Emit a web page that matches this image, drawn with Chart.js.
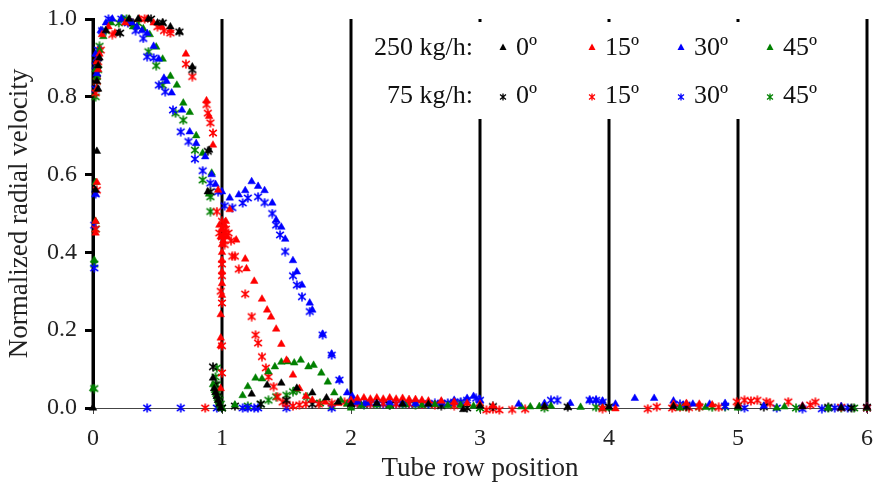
<!DOCTYPE html>
<html>
<head>
<meta charset="utf-8">
<script src="https://cdn.jsdelivr.net/npm/chart.js@4.4.0/dist/chart.umd.min.js"></script>
<style>
  html, body { margin: 0; padding: 0; background: #fff; }
</style>
</head>
<body>
<canvas id="radialChart" width="874" height="485"></canvas>
<script>
// tube row positions (vertical black lines)
const tubeRows = [0, 1, 2, 3, 4, 5, 6];
const xTicks = [0, 1, 2, 3, 4, 5, 6];
const yTicks = [0, 0.2, 0.4, 0.6, 0.8, 1.0];

// 250 kg/h, triangles
const tri0 = [
  [0.0, 0.0], [0.02, 0.56], [0.03, 0.66], [0.03, 0.84], [0.04, 0.88], [0.05, 0.9], [0.04, 0.82],
  [0.1, 0.97], [0.2, 0.964], [0.28, 1.0], [0.35, 1.0], [0.43, 1.0], [0.5, 0.99], [0.54, 0.99],
  [0.6, 0.98], [0.67, 0.967], [0.77, 0.877], [0.9, 0.663], [0.89, 0.556],
  [0.93, 0.077], [0.94, 0.05], [0.95, 0.04], [0.96, 0.03], [0.97, 0.02], [0.98, 0.01], [0.99, 0.0],
  [1.23, 0.036], [1.35, 0.059], [1.46, 0.064], [1.58, 0.051], [1.7, 0.039], [1.81, 0.026], [1.9, 0.015], [2.0, 0.01],
  [2.2, 0.012], [2.4, 0.01], [2.6, 0.01], [2.87, -0.004], [3.0, 0.005], [3.5, 0.004], [3.68, 0.002],
  [4.0, 0.003], [4.5, 0.004], [5.0, 0.004], [5.5, 0.003], [5.8, 0.0], [6.0, 0.002]
];
const tri15 = [
  [0.02, 0.45], [0.02, 0.48], [0.03, 0.58], [0.03, 0.82], [0.04, 0.87], [0.05, 0.91], [0.03, 0.89],
  [0.07, 0.96], [0.12, 0.98], [0.17, 0.964], [0.25, 0.99], [0.36, 1.0], [0.42, 1.0], [0.47, 0.99],
  [0.53, 0.98], [0.6, 0.97], [0.72, 0.91], [0.88, 0.79], [0.9, 0.75], [0.93, 0.676], [0.97, 0.56],
  [0.99, 0.05], [0.99, 0.16], [0.99, 0.18], [0.99, 0.24], [1.0, 0.29], [1.0, 0.32], [1.0, 0.35],
  [1.0, 0.38], [1.0, 0.4], [1.0, 0.42], [1.01, 0.43], [1.01, 0.44], [1.02, 0.45], [1.0, 0.46],
  [1.02, 0.47], [1.03, 0.48], [0.98, 0.47], [0.99, 0.44], [1.04, 0.44], [1.06, 0.51],
  [1.11, 0.432], [1.18, 0.383], [1.19, 0.358], [1.25, 0.326], [1.31, 0.28], [1.35, 0.252], [1.38, 0.234],
  [1.42, 0.203], [1.46, 0.164], [1.5, 0.123], [1.55, 0.085], [1.6, 0.05], [1.65, 0.03], [1.7, 0.02],
  [1.8, 0.015], [1.9, 0.012], [2.0, 0.02], [2.05, 0.024], [2.1, 0.026], [2.15, 0.023], [2.2, 0.026],
  [2.25, 0.023], [2.3, 0.026], [2.35, 0.023], [2.4, 0.025], [2.45, 0.022], [2.5, 0.022], [2.55, 0.02],
  [2.6, 0.018], [2.7, 0.018], [2.8, 0.015], [2.9, 0.012], [3.0, 0.01], [3.1, 0.005], [3.5, 0.003],
  [3.95, 0.0], [4.05, -0.002], [4.5, 0.01], [4.6, 0.012], [4.7, 0.01], [4.8, 0.008], [5.0, 0.01],
  [5.5, 0.005], [6.0, 0.003]
];
const tri30 = [
  [0.02, 0.55], [0.03, 0.86], [0.04, 0.9], [0.02, 0.91], [0.06, 0.97], [0.1, 0.99], [0.15, 1.0], [0.22, 1.0],
  [0.3, 0.99], [0.34, 0.98], [0.38, 0.97], [0.42, 0.963], [0.47, 0.93], [0.51, 0.897], [0.55, 0.848],
  [0.57, 0.84], [0.61, 0.81], [0.69, 0.766], [0.75, 0.71], [0.8, 0.68], [0.87, 0.646], [0.92, 0.6],
  [0.95, 0.575], [1.0, 0.556], [1.06, 0.54], [1.13, 0.548], [1.18, 0.559], [1.23, 0.582], [1.28, 0.57],
  [1.33, 0.559], [1.39, 0.527], [1.42, 0.483], [1.46, 0.465], [1.49, 0.434], [1.55, 0.379], [1.58, 0.35],
  [1.62, 0.316], [1.68, 0.27], [1.7, 0.252], [1.78, 0.19], [1.85, 0.139], [1.91, 0.072], [1.97, 0.039],
  [2.0, 0.02], [2.01, 0.03], [2.02, 0.015], [2.05, 0.015], [2.12, 0.013], [2.2, 0.012], [2.3, 0.014],
  [2.4, 0.013], [2.5, 0.012], [2.6, 0.014], [2.7, 0.015], [2.8, 0.02], [2.9, 0.025], [2.95, 0.03],
  [3.0, 0.02], [3.3, 0.01], [3.5, 0.012], [3.7, 0.012], [3.85, 0.02], [3.9, 0.02], [3.95, 0.018],
  [4.05, 0.01], [4.2, 0.025], [4.35, 0.025], [4.5, 0.018], [4.65, 0.01], [4.78, 0.01], [4.9, 0.012],
  [5.2, 0.005], [5.5, 0.005], [5.8, 0.004], [6.0, 0.003]
];
const tri45 = [
  [0.0, 0.05], [0.01, 0.38], [0.02, 0.48], [0.02, 0.58], [0.03, 0.82], [0.03, 0.85], [0.04, 0.88],
  [0.05, 0.92], [0.02, 0.87], [0.08, 0.955], [0.14, 0.99], [0.23, 1.0], [0.31, 0.98], [0.39, 0.975], [0.44, 0.96],
  [0.49, 0.928], [0.54, 0.897], [0.6, 0.853], [0.65, 0.83], [0.7, 0.784], [0.75, 0.76], [0.8, 0.7],
  [0.85, 0.655], [0.92, 0.604], [0.9, 0.55],
  [0.93, 0.06], [0.94, 0.05], [0.945, 0.045], [0.95, 0.04], [0.955, 0.035], [0.96, 0.03], [0.965, 0.025],
  [0.97, 0.02], [0.975, 0.015], [0.98, 0.01], [0.985, 0.005], [0.99, 0.0], [1.0, 0.0],
  [1.1, 0.008], [1.16, 0.032], [1.2, 0.055], [1.26, 0.077], [1.31, 0.075], [1.36, 0.093], [1.41, 0.106],
  [1.46, 0.118], [1.51, 0.119], [1.56, 0.116], [1.61, 0.123], [1.67, 0.106], [1.71, 0.11], [1.77, 0.09],
  [1.82, 0.067], [1.87, 0.039], [1.92, 0.02], [1.97, 0.01], [2.0, 0.0],
  [2.08, 0.006], [2.2, 0.008], [2.3, 0.005], [2.42, 0.008], [2.55, 0.007], [2.65, 0.009], [2.75, 0.006],
  [2.85, 0.007], [2.95, 0.005], [3.0, 0.005], [3.32, 0.003], [3.39, 0.003], [3.46, 0.004], [3.55, 0.005],
  [3.78, 0.002], [3.95, 0.0], [4.0, 0.0], [4.55, 0.0], [4.75, 0.002], [5.0, 0.0], [5.3, 0.0],
  [5.36, 0.003], [5.7, 0.0], [6.0, 0.0]
];

// 75 kg/h, asterisks
const star0 = [
  [0.03, 0.86], [0.04, 0.9], [0.03, 0.88], [0.21, 0.964], [0.31, 0.99], [0.45, 1.0], [0.54, 0.99],
  [0.67, 0.967], [0.77, 0.87], [0.89, 0.66], [0.91, 0.556], [0.93, 0.106], [0.95, 0.06], [0.97, 0.03],
  [1.0, 0.0], [1.1, 0.005], [1.3, 0.01], [1.5, 0.02], [1.7, 0.01], [2.0, 0.01], [2.3, 0.008],
  [2.7, 0.006], [2.9, 0.0], [3.1, 0.004], [3.68, 0.003], [4.0, 0.003], [4.6, 0.004], [5.2, 0.003],
  [5.7, 0.002], [5.88, 0.0], [6.0, 0.002]
];
const star15 = [
  [0.02, 0.46], [0.03, 0.56], [0.03, 0.84], [0.04, 0.89], [0.06, 0.92], [0.02, 0.81], [0.15, 0.96], [0.3, 0.99],
  [0.4, 1.0], [0.5, 0.98], [0.55, 0.97], [0.6, 0.964], [0.72, 0.884], [0.77, 0.852], [0.88, 0.78],
  [0.89, 0.758], [0.91, 0.733], [0.93, 0.707], [0.87, 0.0], [0.96, 0.505],
  [1.0, 0.09], [1.0, 0.16], [1.0, 0.27], [0.99, 0.3], [1.0, 0.34], [1.0, 0.37], [1.02, 0.42],
  [1.0, 0.44], [1.03, 0.46], [1.0, 0.48], [1.05, 0.45], [1.07, 0.43], [1.08, 0.39], [0.98, 0.45],
  [1.1, 0.39], [1.13, 0.357], [1.18, 0.293], [1.23, 0.235], [1.26, 0.188], [1.28, 0.167], [1.31, 0.132],
  [1.34, 0.103], [1.36, 0.08], [1.4, 0.055], [1.43, 0.029], [1.47, 0.015], [1.5, 0.01], [1.55, 0.005],
  [1.6, 0.008], [1.65, 0.01], [1.75, 0.01], [1.85, 0.012], [1.95, 0.015], [2.05, 0.012], [2.15, 0.01],
  [2.25, 0.012], [2.35, 0.01], [2.45, 0.011], [2.55, 0.009], [2.65, 0.008], [2.8, 0.006],
  [3.05, -0.005], [3.1, -0.003], [3.15, -0.005], [3.25, -0.004], [3.35, -0.003], [3.95, -0.002],
  [4.3, -0.002], [4.37, 0.003], [4.49, 0.0], [4.55, 0.002], [4.62, 0.001], [4.7, 0.003], [4.85, 0.002],
  [4.99, 0.016], [5.05, 0.02], [5.1, 0.018], [5.15, 0.02], [5.22, 0.016], [5.25, 0.012], [5.39, 0.016],
  [5.56, 0.008], [5.6, 0.015], [5.8, 0.002], [6.0, 0.0]
];
const star30 = [
  [0.01, 0.36], [0.01, 0.47], [0.02, 0.55], [0.02, 0.82], [0.03, 0.86], [0.03, 0.9], [0.04, 0.92],
  [0.02, 0.88], [0.07, 0.97], [0.12, 1.0], [0.22, 1.0], [0.27, 0.99], [0.33, 0.97], [0.39, 0.95], [0.42, 0.903],
  [0.47, 0.9], [0.51, 0.83], [0.56, 0.813], [0.62, 0.766], [0.68, 0.71], [0.74, 0.685], [0.79, 0.64],
  [0.85, 0.61], [0.91, 0.578], [0.97, 0.556], [1.02, 0.52], [1.08, 0.515], [1.16, 0.527], [1.2, 0.54],
  [1.28, 0.543], [1.33, 0.528], [1.39, 0.5], [1.42, 0.47], [1.45, 0.445], [1.49, 0.402], [1.55, 0.34],
  [1.58, 0.316], [1.62, 0.286], [1.68, 0.248], [1.78, 0.188], [1.85, 0.136], [1.91, 0.072],
  [0.42, 0.0], [0.68, 0.0], [0.96, 0.0], [1.16, 0.0], [1.2, 0.0], [1.25, 0.0], [1.28, 0.0], [1.5, 0.0],
  [1.85, 0.0], [2.05, 0.012], [2.1, 0.01], [2.15, 0.012], [2.2, 0.012], [2.25, 0.01], [2.3, 0.012],
  [2.35, 0.011], [2.4, 0.012], [2.45, 0.01], [2.5, 0.012], [2.55, 0.011], [2.6, 0.01], [2.65, 0.012],
  [2.7, 0.012], [2.75, 0.013], [2.8, 0.015], [2.85, 0.016], [2.9, 0.02], [2.97, 0.025], [3.0, 0.02],
  [3.55, 0.02], [3.6, 0.02], [3.85, 0.02], [3.9, 0.02], [3.95, 0.015], [4.55, 0.01], [4.6, 0.008],
  [4.9, 0.005], [5.05, 0.0], [5.3, 0.0], [5.5, -0.002], [5.65, -0.002], [5.75, 0.0], [5.85, 0.0], [6.0, 0.0]
];
const star45 = [
  [0.01, 0.05], [0.01, 0.37], [0.02, 0.46], [0.02, 0.8], [0.03, 0.84], [0.04, 0.87], [0.05, 0.93],
  [0.03, 0.9], [0.1, 0.97], [0.2, 0.99], [0.26, 1.0], [0.35, 0.99], [0.43, 0.916], [0.49, 0.88], [0.54, 0.83],
  [0.64, 0.758], [0.7, 0.74], [0.79, 0.663], [0.85, 0.586], [0.91, 0.543], [0.91, 0.505],
  [0.96, 0.103], [0.95, 0.08], [0.96, 0.06], [0.97, 0.04], [0.98, 0.02], [0.99, 0.01], [1.0, 0.0],
  [1.2, 0.005], [1.3, 0.01], [1.36, 0.02], [1.42, 0.029], [1.5, 0.033], [1.55, 0.042], [1.58, 0.046],
  [1.66, 0.029], [1.76, 0.013], [1.85, 0.005], [2.0, 0.01], [2.1, 0.008], [2.2, 0.009], [2.3, 0.008],
  [2.4, 0.009], [2.5, 0.008], [2.6, 0.009], [2.7, 0.01], [2.78, 0.011], [2.85, 0.012], [3.0, 0.0],
  [3.5, 0.0], [3.9, 0.002], [4.6, 0.003], [4.7, 0.003], [4.8, 0.002], [4.9, 0.003], [5.0, 0.005],
  [5.45, 0.0], [5.7, 0.0], [5.8, 0.0], [5.9, 0.0], [6.0, 0.0]
];

const angleLabels = ['0º', '15º', '30º', '45º'];
const colors = ['#000000', '#ff0000', '#0000ff', '#008000'];
const fontFamily = "'Liberation Serif', 'DejaVu Serif', serif";

// six-armed asterisk marker
function makeStar(color, size, lw) {
  const c = document.createElement('canvas');
  c.width = size; c.height = size;
  const g = c.getContext('2d');
  const m = size / 2, r = size / 2 - 0.5;
  g.strokeStyle = color;
  g.lineWidth = lw;
  g.beginPath();
  g.moveTo(m, m - r); g.lineTo(m, m + r);
  g.moveTo(m - r * 0.85, m - r * 0.7); g.lineTo(m + r * 0.85, m + r * 0.7);
  g.moveTo(m + r * 0.85, m - r * 0.7); g.lineTo(m - r * 0.85, m + r * 0.7);
  g.stroke();
  return c;
}

const toPts = arr => arr.map(p => ({ x: p[0], y: p[1] }));

const triSeries = [tri0, tri15, tri30, tri45];
const starSeries = [star0, star15, star30, star45];
const datasets = [];
triSeries.forEach((s, i) => {
  datasets.push({
    label: '250 kg/h ' + angleLabels[i],
    data: toPts(s),
    pointStyle: 'triangle',
    pointRadius: 4.4,
    borderWidth: 0.5,
    backgroundColor: colors[i],
    borderColor: colors[i],
    showLine: false,
    clip: false
  });
});
starSeries.forEach((s, i) => {
  datasets.push({
    label: '75 kg/h ' + angleLabels[i],
    data: toPts(s),
    pointStyle: makeStar(colors[i], 10, 1.6),
    pointRadius: 5,
    backgroundColor: colors[i],
    borderColor: colors[i],
    showLine: false,
    clip: false
  });
});

const tubeLines = {
  id: 'tubeLines',
  beforeDatasetsDraw(chart) {
    const { ctx, scales: { x, y } } = chart;
    ctx.save();
    ctx.strokeStyle = '#000';
    ctx.lineWidth = 3;
    tubeRows.forEach(t => {
      const px = x.getPixelForValue(t);
      ctx.beginPath();
      ctx.moveTo(px, y.getPixelForValue(0));
      ctx.lineTo(px, y.getPixelForValue(1));
      ctx.stroke();
    });

    // legend box (white, hides the tube lines behind it)
    ctx.fillStyle = '#fff';
    ctx.fillRect(356, 22, 506, 97);

    ctx.font = '26px ' + fontFamily;
    ctx.fillStyle = '#111';
    ctx.textBaseline = 'middle';
    ctx.textAlign = 'right';
    ctx.fillText('250 kg/h:', 473, 48);
    ctx.fillText('75 kg/h:', 473, 96);
    const markX = [503, 592, 681, 770];
    ctx.textAlign = 'left';
    markX.forEach((mx, i) => {
      ctx.fillStyle = colors[i];
      ctx.beginPath();
      ctx.moveTo(mx, 43.5);
      ctx.lineTo(mx + 3.5, 50);
      ctx.lineTo(mx - 3.5, 50);
      ctx.closePath();
      ctx.fill();
      const st = makeStar(colors[i], 8, 1.3);
      ctx.drawImage(st, mx - 4, 93);
      ctx.fillStyle = '#111';
      ctx.fillText(angleLabels[i], mx + 13, 48);
      ctx.fillText(angleLabels[i], mx + 13, 96);
    });
    ctx.restore();
  }
};

new Chart(document.getElementById('radialChart'), {
  type: 'scatter',
  data: { datasets },
  options: {
    responsive: false,
    animation: false,
    layout: { padding: { top: 19, right: 7, left: 0, bottom: 0 } },
    plugins: { legend: { display: false }, tooltip: { enabled: false } },
    scales: {
      x: {
        type: 'linear',
        min: 0,
        max: 6,
        afterBuildTicks: s => { s.ticks = xTicks.map(v => ({ value: v })); },
        ticks: {
          callback: v => String(v),
          font: { family: fontFamily, size: 24 },
          color: '#222',
          padding: 10
        },
        grid: { drawOnChartArea: false, tickLength: 6, tickWidth: 1, tickColor: '#444' },
        border: { color: '#444', width: 1 },
        title: {
          display: true,
          text: 'Tube row position',
          font: { family: fontFamily, size: 27 },
          color: '#222',
          padding: { top: 0, bottom: 0 }
        },
        afterFit: s => { s.height = 77; s.paddingLeft = 0; s.paddingRight = 0; }
      },
      y: {
        min: 0,
        max: 1,
        afterBuildTicks: s => { s.ticks = yTicks.map(v => ({ value: v })); },
        ticks: {
          callback: v => v.toFixed(1),
          font: { family: fontFamily, size: 24 },
          color: '#222',
          padding: 8
        },
        grid: { drawOnChartArea: false, tickLength: 8, tickWidth: 3, tickColor: '#000' },
        border: { color: '#000', width: 3 },
        title: {
          display: true,
          text: 'Normalized radial velocity',
          font: { family: fontFamily, size: 27 },
          color: '#222',
          padding: { top: 4, bottom: 0 }
        },
        afterFit: s => { s.width = 93; s.paddingTop = 0; s.paddingBottom = 0; }
      }
    }
  },
  plugins: [tubeLines]
});
</script>
</body>
</html>
